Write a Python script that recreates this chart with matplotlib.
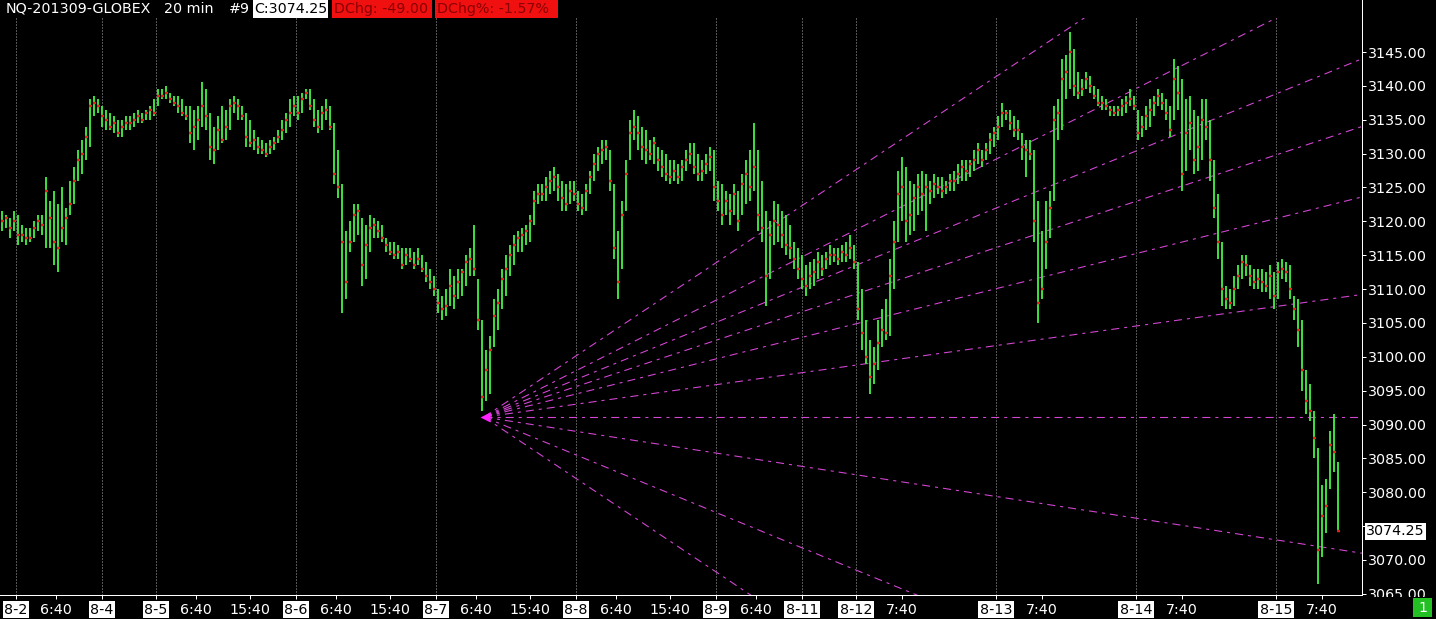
import matplotlib
matplotlib.use('Agg')
import matplotlib.pyplot as plt
from matplotlib.patches import Rectangle
from matplotlib.lines import Line2D
import numpy as np

plt.rcParams['font.family'] = ['DejaVu Sans']
plt.rcParams['lines.scale_dashes'] = False

W, H = 1436, 619

# ---------------- data (40-minute columns) ----------------
highs = [
    3121.5, 3121.0, 3120.5, 3121.5, 3121.0, 3119.5, 3119.0, 3119.0, 3120.0, 3121.0,
    3121.0, 3126.5, 3123.0, 3124.5, 3122.5, 3125.0, 3122.0, 3126.0, 3128.0, 3130.5,
    3132.0, 3134.0, 3138.0, 3138.5, 3138.0, 3137.0, 3136.5, 3136.0, 3135.5, 3135.0,
    3135.0, 3135.5, 3135.5, 3136.0, 3136.5, 3136.0, 3136.5, 3137.0, 3138.0, 3139.5,
    3139.5, 3140.0, 3139.0, 3138.5, 3138.5, 3138.0, 3137.0, 3137.0, 3136.5, 3137.0,
    3140.5, 3139.5, 3136.0, 3134.0, 3135.5, 3137.0, 3136.5, 3138.0, 3138.5, 3138.0,
    3137.0, 3136.0, 3135.0, 3133.5, 3132.5, 3132.0, 3131.5, 3132.0, 3132.5, 3133.5,
    3135.0, 3136.0, 3138.0, 3138.5, 3138.5, 3139.0, 3139.5, 3139.5, 3138.0, 3136.5,
    3137.0, 3138.0, 3137.0, 3134.5, 3130.5, 3125.5, 3118.5, 3120.0, 3122.5, 3122.5,
    3120.5, 3119.5, 3121.0, 3120.5, 3120.0, 3119.5, 3117.5, 3117.0, 3117.0, 3116.5,
    3116.0, 3116.0, 3116.0, 3115.5, 3116.0, 3115.0, 3114.0, 3113.0, 3112.0, 3110.0,
    3109.0, 3110.0, 3113.0, 3112.0, 3113.0, 3113.0, 3115.0, 3116.0, 3119.5, 3111.5,
    3105.5, 3101.0, 3103.0, 3108.5, 3110.0, 3113.0, 3115.0, 3116.5, 3118.0, 3118.5,
    3119.0, 3119.5, 3121.0, 3124.5, 3125.5, 3125.5, 3126.5, 3127.5, 3128.0, 3127.0,
    3126.0, 3125.5, 3126.0, 3126.0, 3124.5, 3124.0, 3125.5, 3127.5, 3130.0, 3131.0,
    3132.0, 3132.0, 3130.5, 3125.5, 3118.5, 3123.0, 3129.0, 3135.0, 3136.5, 3135.5,
    3134.0, 3133.5, 3132.0, 3132.5, 3131.0, 3130.5, 3130.0, 3129.0, 3129.0, 3128.5,
    3129.0, 3130.5, 3131.5, 3131.5, 3130.0, 3129.0, 3130.0, 3131.0, 3130.5, 3126.0,
    3125.5, 3124.5, 3124.0, 3125.5, 3124.5, 3127.0, 3129.0, 3130.5, 3134.5, 3130.5,
    3126.0, 3121.5, 3120.0, 3123.0, 3122.5, 3121.5, 3121.0, 3119.5, 3117.0, 3116.0,
    3115.0, 3113.5, 3114.0, 3114.5, 3115.5, 3115.0, 3115.5, 3116.5, 3116.0, 3116.0,
    3116.5, 3117.0, 3118.0, 3116.5, 3114.0, 3110.0, 3105.5, 3102.5, 3101.5, 3105.5,
    3107.0, 3108.5, 3114.5, 3120.0, 3127.5, 3129.5, 3128.0, 3126.0, 3125.5, 3127.0,
    3127.5, 3127.0, 3126.0, 3127.0, 3126.5, 3126.5, 3126.0, 3127.0, 3127.5, 3128.5,
    3129.0, 3129.0, 3129.0, 3130.5, 3131.5, 3130.5, 3131.5, 3133.0, 3134.0, 3135.5,
    3137.5, 3136.5, 3136.5, 3135.5, 3135.0, 3133.0, 3132.0, 3132.0, 3130.5, 3123.0,
    3118.5, 3123.0, 3124.5, 3137.0, 3138.0, 3144.0, 3144.5, 3148.0, 3145.5, 3142.0,
    3141.0, 3142.0, 3141.5, 3140.0, 3139.5, 3138.5, 3138.0, 3137.0, 3137.0, 3137.0,
    3138.0, 3138.5, 3139.5, 3138.5, 3136.5, 3135.5, 3137.0, 3138.0, 3138.5, 3139.5,
    3139.0, 3138.0, 3137.0, 3144.0, 3143.0, 3141.0, 3138.0, 3138.5, 3136.5, 3135.5,
    3138.0, 3138.0, 3135.0, 3129.0, 3124.0, 3117.0, 3110.5, 3110.0, 3112.0, 3113.5,
    3115.0, 3115.0, 3113.5, 3113.0, 3113.0, 3113.0, 3112.5, 3113.5, 3112.5, 3114.0,
    3114.5, 3114.0, 3113.5, 3109.0, 3108.5, 3105.5, 3098.0, 3096.0, 3092.0, 3086.5,
    3081.0, 3082.0, 3089.0, 3091.5, 3084.5,
]
lows = [
    3118.5, 3119.0, 3117.5, 3118.5, 3116.5, 3117.0, 3116.5, 3117.0, 3117.5, 3118.5,
    3118.0, 3116.0, 3116.0, 3113.5, 3112.5, 3117.0, 3116.5, 3121.0, 3122.5, 3126.0,
    3127.0, 3129.0, 3131.0, 3135.5, 3136.0, 3134.0, 3133.5, 3133.5, 3133.0, 3132.5,
    3132.5, 3133.5, 3133.5, 3134.0, 3134.5, 3134.5, 3135.0, 3135.0, 3135.5, 3137.0,
    3138.0, 3138.0, 3137.5, 3137.0, 3136.0, 3135.5, 3135.0, 3131.5, 3130.5, 3132.0,
    3134.0, 3133.5, 3129.0, 3128.5, 3130.5, 3131.5, 3132.0, 3133.5, 3136.0, 3135.0,
    3135.0, 3131.0, 3131.0, 3130.5, 3130.0, 3130.0, 3129.5, 3130.0, 3130.5, 3131.5,
    3132.0, 3133.0, 3134.0, 3135.5, 3135.0, 3136.0, 3138.0, 3136.5, 3134.0, 3133.0,
    3133.5, 3135.0, 3133.5, 3125.5, 3123.5, 3106.5, 3108.5, 3115.5, 3117.0, 3118.0,
    3110.5, 3111.5, 3115.5, 3117.5, 3117.5, 3117.0, 3115.5, 3115.0, 3114.5, 3114.5,
    3113.0, 3113.5, 3114.0, 3113.0, 3113.5, 3112.5, 3111.0, 3110.0, 3109.0, 3106.5,
    3105.5, 3106.0, 3107.5, 3107.0, 3108.5, 3109.0, 3110.5, 3112.0, 3112.0, 3104.0,
    3092.0, 3093.5, 3094.5, 3101.5, 3104.0, 3107.0, 3109.0, 3112.0, 3113.5, 3115.5,
    3115.5, 3116.5, 3117.0, 3119.5, 3122.5, 3123.0, 3123.0, 3124.0, 3124.5, 3123.0,
    3121.5, 3121.5, 3122.5, 3123.0, 3121.5, 3121.0, 3121.5, 3124.0, 3126.0, 3127.5,
    3128.5, 3129.0, 3124.5, 3114.5, 3108.5, 3113.0, 3121.5, 3129.0, 3132.0, 3130.5,
    3129.0, 3128.5, 3129.0, 3128.5, 3127.5, 3126.5, 3126.0, 3125.5, 3126.0, 3125.5,
    3126.0, 3127.5, 3128.5, 3127.0, 3126.0, 3126.0, 3127.0, 3127.5, 3123.0, 3121.5,
    3119.5, 3121.0, 3119.5, 3121.0, 3118.5, 3121.0, 3122.5, 3123.0, 3124.5, 3118.5,
    3117.0, 3107.5, 3111.5, 3116.5, 3117.0, 3116.0, 3115.0, 3114.5, 3113.0, 3111.5,
    3110.0, 3109.0, 3110.0, 3110.5, 3111.5, 3112.0, 3113.0, 3113.5, 3114.0, 3113.5,
    3114.0, 3114.0, 3114.5, 3113.0, 3105.5, 3101.0, 3099.0, 3094.5, 3096.0, 3098.0,
    3101.5, 3102.5, 3103.0, 3110.0, 3117.0, 3120.0, 3117.0, 3118.0, 3118.5, 3121.0,
    3121.5, 3118.5, 3122.5, 3123.5, 3124.0, 3123.5, 3124.0, 3124.5, 3124.5, 3125.5,
    3126.0, 3126.0, 3126.5, 3127.5, 3128.5, 3128.0, 3129.0, 3130.0, 3131.0, 3132.0,
    3134.0, 3135.0, 3133.5, 3132.5, 3132.0, 3129.0, 3126.5, 3129.0, 3117.0, 3105.0,
    3108.5, 3113.0, 3117.5, 3123.0, 3132.0, 3133.5, 3138.0, 3139.5, 3138.5, 3138.0,
    3138.5, 3139.5, 3139.0, 3138.0, 3137.0, 3136.5, 3136.5, 3135.5, 3135.5, 3135.5,
    3135.5, 3136.0, 3137.0, 3136.5, 3132.0, 3132.5, 3133.5, 3134.0, 3135.5, 3137.0,
    3136.5, 3135.0, 3132.5, 3135.0, 3136.5, 3124.5, 3127.5, 3130.5, 3127.0, 3127.5,
    3129.0, 3132.0, 3126.0, 3120.5, 3114.5, 3107.5, 3107.0, 3107.0, 3107.5, 3110.0,
    3111.5, 3112.0, 3110.5, 3110.0, 3110.0, 3109.5, 3109.5, 3108.5, 3107.0, 3108.5,
    3111.5, 3111.0, 3108.5, 3105.5, 3101.5, 3095.0, 3091.5, 3090.5, 3085.0, 3066.5,
    3070.5, 3074.0, 3080.5, 3083.0, 3074.25,
]
closes = [
    3120.0, 3120.5, 3119.0, 3120.0, 3118.0, 3118.0, 3117.5, 3117.5, 3119.0, 3120.0,
    3119.5, 3124.5, 3120.5, 3117.0, 3116.0, 3119.0, 3120.5, 3122.5, 3126.0, 3129.0,
    3130.0, 3132.5, 3137.0, 3137.5, 3137.0, 3135.5, 3135.0, 3134.0, 3134.5, 3133.0,
    3134.0, 3134.5, 3134.5, 3135.0, 3135.5, 3135.0, 3136.0, 3136.5, 3136.0, 3138.5,
    3138.5, 3139.0, 3138.0, 3137.5, 3137.0, 3136.0, 3135.5, 3133.0, 3134.0, 3135.0,
    3137.0, 3135.5, 3131.0, 3130.5, 3133.5, 3132.0, 3134.0, 3137.0, 3137.5, 3137.0,
    3135.5, 3132.5, 3131.5, 3132.0, 3131.0, 3130.5, 3130.0, 3131.0, 3131.5, 3132.5,
    3133.5, 3135.0, 3136.0, 3137.0, 3136.0, 3138.0, 3139.0, 3137.0, 3135.0, 3134.0,
    3136.0, 3136.5, 3134.0, 3127.0, 3125.0, 3117.0, 3111.0, 3117.0, 3121.0, 3121.5,
    3113.5, 3116.5, 3119.0, 3119.5, 3118.5, 3117.5, 3116.5, 3115.5, 3115.0, 3115.5,
    3113.5, 3115.0, 3114.5, 3113.5, 3114.5, 3113.0, 3112.0, 3111.0, 3110.0, 3108.0,
    3107.0, 3107.5, 3110.5, 3109.0, 3111.0, 3112.5, 3114.0, 3114.5, 3113.0, 3105.5,
    3094.0, 3098.0, 3101.0, 3106.0, 3108.0, 3111.5, 3113.0, 3115.0, 3116.5, 3117.5,
    3118.0, 3118.5, 3120.0, 3123.0, 3124.0, 3124.0, 3125.0, 3126.0, 3126.5, 3125.0,
    3123.5, 3122.5, 3124.5, 3124.0, 3122.5, 3122.0, 3124.5, 3126.5, 3128.5, 3130.0,
    3130.5, 3131.0, 3126.0, 3116.0, 3111.0, 3121.0, 3127.0, 3133.0, 3134.0, 3133.0,
    3131.0, 3130.5, 3130.0, 3131.5, 3129.0, 3128.0, 3127.0, 3126.5, 3127.5, 3126.5,
    3128.0, 3129.0, 3130.0, 3128.0, 3127.0, 3127.5, 3128.5, 3129.5, 3125.0, 3123.0,
    3121.0, 3123.0, 3121.5, 3124.0, 3120.0, 3125.5, 3127.0, 3125.0, 3128.0, 3121.0,
    3119.0, 3112.0, 3118.0, 3120.0, 3119.5, 3118.0, 3116.5, 3116.0, 3114.5, 3113.0,
    3111.5, 3110.5, 3112.0, 3112.5, 3114.0, 3113.0, 3114.5, 3115.0, 3115.0, 3114.5,
    3115.5, 3115.0, 3116.0, 3114.0, 3107.0, 3103.5, 3100.0, 3097.0, 3099.0, 3102.0,
    3104.0, 3103.5, 3112.0, 3117.0, 3124.0, 3125.0, 3120.0, 3121.0, 3123.5, 3125.0,
    3124.0, 3125.0, 3124.5, 3125.5, 3125.0, 3124.5, 3125.0, 3126.0, 3126.0, 3127.0,
    3128.0, 3127.5, 3128.5, 3129.0, 3130.5, 3129.0, 3130.5, 3132.0, 3133.0, 3134.0,
    3136.0, 3136.0, 3134.5, 3133.5, 3133.5, 3131.0, 3130.5, 3130.0, 3120.0, 3108.0,
    3110.0, 3117.0, 3122.0, 3135.0, 3136.0, 3141.0, 3142.0, 3145.0, 3140.0, 3139.0,
    3139.5, 3141.0, 3140.0, 3138.5, 3137.5, 3137.5, 3137.0, 3136.5, 3136.0, 3136.5,
    3137.0, 3137.5, 3138.0, 3137.0, 3133.0, 3134.0, 3135.5, 3136.5, 3137.5, 3138.5,
    3137.5, 3136.0, 3133.5, 3141.0, 3139.0, 3127.0, 3133.0, 3134.5, 3129.0, 3131.0,
    3135.0, 3134.0, 3129.0, 3122.0, 3117.0, 3110.0, 3108.5, 3108.0, 3110.0, 3112.0,
    3114.0, 3113.5, 3112.0, 3111.0, 3111.5, 3111.0, 3110.5, 3112.0, 3109.0, 3112.5,
    3113.0, 3112.5, 3110.0, 3107.0, 3104.0, 3098.0, 3093.5, 3092.0, 3088.0, 3071.5,
    3076.5, 3078.0, 3087.0, 3086.0, 3074.25,
]

day_labels = ['8-2', '8-4', '8-5', '8-6', '8-7', '8-8', '8-9', '8-11', '8-12', '8-13', '8-14', '8-15']
day_pos = [8, 51, 78, 148, 218, 288, 358, 401, 428, 498, 568, 638]          # in 20-min bar units
time_labels = ['6:40', '6:40', '15:40', '6:40', '15:40', '6:40', '15:40', '6:40', '15:40',
               '6:40', '7:40', '7:40', '7:40', '7:40']
time_pos = [28, 98, 125, 168, 195, 238, 265, 308, 335, 378, 451, 521, 591, 661]

price_ticks = list(range(3065, 3150, 5))
last_price = 3074.25
fan_origin_x, fan_origin_price = 242.0, 3091.1
fan_end_x = 681
fan_end_prices = [3177.3, 3156.4, 3144.0, 3134.0, 3123.6, 3109.2, 3091.1, 3071.0, 3037.8, 3004.6]

title_main = 'NQ-201309-GLOBEX'
title_interval = '20 min'
title_num = '#9'
title_close = 'C:3074.25'
title_chg = 'DChg: -49.00'
title_chgpct = 'DChg%: -1.57%'

# ---------------- styling ----------------
GREEN = '#3cdc3c'
RED = '#e02010'
MAG = '#d246d2'
FS = 10.3
PX = 0.72  # one pixel in points at 100 dpi

def fx(px):
    return px / W

def fy(py):
    return 1 - py / H

fig = plt.figure(figsize=(W / 100, H / 100), dpi=100, facecolor='black')
ax = fig.add_axes([0, 24 / H, 1362 / W, 577 / H], facecolor='black')
ax.set_xlim(0, 681)
ax.set_ylim(3064.83, 3150.02)

# day separators
for p in day_pos:
    ax.axvline(p, color='#a8a8a8', lw=PX, linestyle=(0, (PX, 2 * PX)), zorder=1)

# fan lines
for p in fan_end_prices:
    ax.plot([fan_origin_x, fan_end_x], [fan_origin_price, p], color=MAG, lw=1.1 * PX,
            linestyle=(0, (5.8, 3.6, 2.2, 3.6)), zorder=2)
ax.plot([fan_origin_x + 0.5], [fan_origin_price], marker='<', ms=7.2, color='#ff22ff',
        mec='none', zorder=4)

# price bars
n = len(closes)
x = 2 * np.arange(n) + 1
ax.vlines(x, lows, highs, colors=GREEN, linewidth=2 * PX, zorder=3)
ax.hlines(closes, x - 0.5, x + 1.0, colors=RED, linewidth=2.5 * PX, zorder=3.5)

# axes / ticks
for s in ['top', 'left']:
    ax.spines[s].set_visible(False)
for s in ['right', 'bottom']:
    ax.spines[s].set_color('white')
    ax.spines[s].set_linewidth(PX)

ax.yaxis.tick_right()
ax.set_yticks(price_ticks)
# the 3075 level is covered by the last-price box, so its label is left blank
ax.set_yticklabels(['' if abs(v - last_price) < 2.5 else f'{v:.2f}' for v in price_ticks])
ax.tick_params(axis='y', colors='white', labelcolor='white', direction='out',
               length=3, width=PX, pad=1.5, labelsize=FS)

xt = day_pos + time_pos
xl = day_labels + time_labels
order = np.argsort(xt)
ax.set_xticks([xt[i] for i in order])
ax.set_xticklabels([xl[i] for i in order])
ax.tick_params(axis='x', colors='white', labelcolor='white', direction='out',
               length=3, width=PX, pad=2.5, labelsize=FS)
for lab in ax.get_xticklabels():
    if lab.get_text() in day_labels:
        lab.set_color('black')
        lab.set_bbox(dict(boxstyle='square,pad=0.12', fc='white', ec='none'))

# current price box
ax.text(1366 / 1362, last_price, f'{last_price:.2f}', transform=ax.get_yaxis_transform(),
        ha='left', va='center', color='black', fontsize=FS, clip_on=False, zorder=6,
        bbox=dict(boxstyle='square,pad=0.1', fc='white', ec='none'))

# right border extension up through title strip
fig.add_artist(Line2D([fx(1362), fx(1362)], [fy(18), 1], color='white', lw=PX))

# cover for cut-off bottom label + green box
fig.add_artist(Rectangle((fx(1363), 0), (W - 1363) / W, (H - 597) / H,
                         transform=fig.transFigure, fc='black', ec='none', zorder=5))
fig.add_artist(Rectangle((fx(1413), fy(617)), 19 / W, 19 / H,
                         transform=fig.transFigure, fc='#22c022', ec='none', zorder=6))
fig.text(fx(1422.5), fy(607.5), '1', color='white', fontsize=FS, ha='center', va='center', zorder=7)

# title strip
ty = fy(9)
fig.text(fx(6), ty, title_main, color='white', fontsize=FS, ha='left', va='center')
fig.text(fx(164), ty, title_interval, color='white', fontsize=FS, ha='left', va='center')
fig.text(fx(229), ty, title_num, color='white', fontsize=FS, ha='left', va='center')
fig.add_artist(Rectangle((fx(253), fy(18)), 75 / W, 18 / H, transform=fig.transFigure,
                         fc='white', ec='none', zorder=2))
fig.text(fx(254), ty, title_close, color='black', fontsize=FS, ha='left', va='center', zorder=3)
fig.add_artist(Rectangle((fx(332), fy(18)), 100 / W, 18 / H, transform=fig.transFigure,
                         fc='#f01010', ec='none', zorder=2))
fig.text(fx(334), ty, title_chg, color='#8a0000', fontsize=FS, ha='left', va='center', zorder=3)
fig.add_artist(Rectangle((fx(435), fy(18)), 123 / W, 18 / H, transform=fig.transFigure,
                         fc='#f01010', ec='none', zorder=2))
fig.text(fx(437), ty, title_chgpct, color='#8a0000', fontsize=FS, ha='left', va='center', zorder=3)

fig.savefig('out.png', dpi=100, facecolor='black')
